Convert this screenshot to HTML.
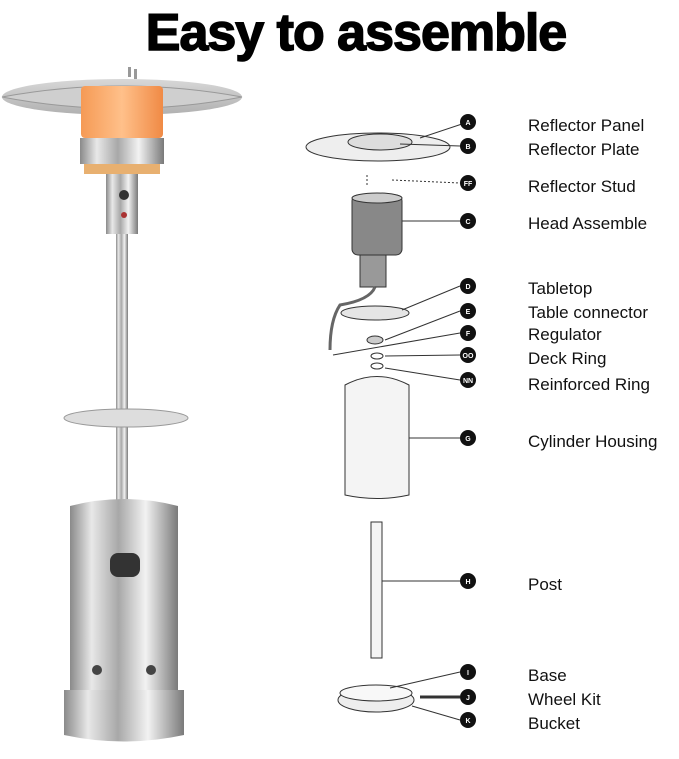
<!DOCTYPE html>
<html><head><meta charset="utf-8"><style>
html,body{margin:0;padding:0;background:#fff;}
svg{display:block}
text{font-family:"Liberation Sans",sans-serif}
.l{font-size:17px;fill:#111}
.c{fill:#111}
.ct{font-size:7px;font-weight:bold;fill:#fff;text-anchor:middle}
</style></head><body>
<svg width="679" height="759" viewBox="0 0 679 759" xmlns="http://www.w3.org/2000/svg">
<defs>
<linearGradient id="steel" x1="0" x2="1">
<stop offset="0" stop-color="#8a8a8a"/><stop offset="0.2" stop-color="#e8e8e8"/><stop offset="0.45" stop-color="#a8a8a8"/><stop offset="0.7" stop-color="#f2f2f2"/><stop offset="1" stop-color="#7a7a7a"/></linearGradient>
<linearGradient id="glow" x1="0" x2="1"><stop offset="0" stop-color="#f59a55"/><stop offset="0.5" stop-color="#ffc08a"/><stop offset="1" stop-color="#f08a45"/></linearGradient>
<linearGradient id="disk" x1="0" y1="0" x2="0" y2="1"><stop offset="0" stop-color="#d8d8d8"/><stop offset="1" stop-color="#b0b0b0"/></linearGradient>
</defs>
<text x="356" y="50" text-anchor="middle" style="font-size:52px;font-weight:900;letter-spacing:-1px" fill="#000" stroke="#000" stroke-width="1.5">Easy to assemble</text>

<!-- left heater -->
<ellipse cx="122" cy="97" rx="120" ry="18" fill="url(#disk)"/>
<path d="M2,97 Q122,75 242,97 Q122,120 2,97Z" fill="#cfcfcf" stroke="#999" stroke-width="1"/>
<rect x="128" y="67" width="3" height="10" fill="#999"/><rect x="134" y="69" width="3" height="10" fill="#999"/>
<rect x="81" y="86" width="82" height="52" rx="4" fill="url(#glow)"/>
<rect x="80" y="138" width="84" height="26" fill="url(#steel)"/>
<rect x="84" y="164" width="76" height="10" fill="#e8b070"/>
<rect x="106" y="174" width="32" height="60" fill="url(#steel)"/>
<circle cx="124" cy="195" r="5" fill="#333"/><circle cx="124" cy="215" r="3" fill="#a33"/>
<rect x="116" y="234" width="12" height="280" fill="url(#steel)"/>
<ellipse cx="126" cy="418" rx="62" ry="9" fill="#ddd" stroke="#999"/>
<path d="M70,506 Q124,492 178,506 L178,690 L70,690Z" fill="url(#steel)"/>
<rect x="110" y="553" width="30" height="24" rx="8" fill="#333"/>
<circle cx="97" cy="670" r="5" fill="#444"/><circle cx="151" cy="670" r="5" fill="#444"/>
<path d="M64,690 L184,690 L184,735 Q124,748 64,735Z" fill="url(#steel)"/>

<!-- exploded diagram -->
<g stroke="#333" fill="none" stroke-width="1">
<ellipse cx="378" cy="147" rx="72" ry="14" fill="#eee"/>
<ellipse cx="380" cy="142" rx="32" ry="8" fill="#ddd"/>
<line x1="420" y1="138" x2="462" y2="124"/><line x1="400" y1="144" x2="460" y2="146"/>
<line x1="392" y1="180" x2="460" y2="183" stroke-dasharray="2,2"/>
<line x1="367" y1="175" x2="367" y2="186" stroke-dasharray="2,2"/>
<rect x="352" y="195" width="50" height="60" rx="6" fill="#888"/>
<ellipse cx="377" cy="198" rx="25" ry="5" fill="#ccc"/>
<line x1="402" y1="221" x2="460" y2="221"/>
<rect x="360" y="255" width="26" height="32" fill="#999"/>
<path d="M375,287 Q370,300 340,305 Q330,320 330,350" stroke="#666" stroke-width="3"/>
<ellipse cx="375" cy="313" rx="34" ry="7" fill="#e5e5e5"/>
<line x1="402" y1="310" x2="460" y2="286"/>
<ellipse cx="375" cy="340" rx="8" ry="4" fill="#ccc"/><line x1="385" y1="340" x2="460" y2="311"/>
<line x1="333" y1="355" x2="460" y2="333"/>
<ellipse cx="377" cy="356" rx="6" ry="3"/><line x1="385" y1="356" x2="460" y2="355"/>
<ellipse cx="377" cy="366" rx="6" ry="3"/><line x1="385" y1="368" x2="460" y2="380"/>
<path d="M345,385 Q377,368 409,385 L409,495 Q377,502 345,495Z" fill="#f4f4f4"/>
<line x1="409" y1="438" x2="460" y2="438"/>
<rect x="371" y="522" width="11" height="136" fill="#f4f4f4"/>
<line x1="382" y1="581" x2="460" y2="581"/>
<ellipse cx="376" cy="700" rx="38" ry="12" fill="#eee"/>
<ellipse cx="376" cy="693" rx="36" ry="8" fill="#f8f8f8"/>
<line x1="390" y1="688" x2="460" y2="672"/>
<line x1="420" y1="697" x2="460" y2="697" stroke-width="3"/>
<line x1="412" y1="706" x2="460" y2="720"/>
</g>

<g>
<circle class="c" cx="468" cy="122" r="8"/><text class="ct" x="468" y="125">A</text>
<circle class="c" cx="468" cy="146" r="8"/><text class="ct" x="468" y="149">B</text>
<circle class="c" cx="468" cy="183" r="8"/><text class="ct" x="468" y="186">FF</text>
<circle class="c" cx="468" cy="221" r="8"/><text class="ct" x="468" y="224">C</text>
<circle class="c" cx="468" cy="286" r="8"/><text class="ct" x="468" y="289">D</text>
<circle class="c" cx="468" cy="311" r="8"/><text class="ct" x="468" y="314">E</text>
<circle class="c" cx="468" cy="333" r="8"/><text class="ct" x="468" y="336">F</text>
<circle class="c" cx="468" cy="355" r="8"/><text class="ct" x="468" y="358">OO</text>
<circle class="c" cx="468" cy="380" r="8"/><text class="ct" x="468" y="383">NN</text>
<circle class="c" cx="468" cy="438" r="8"/><text class="ct" x="468" y="441">G</text>
<circle class="c" cx="468" cy="581" r="8"/><text class="ct" x="468" y="584">H</text>
<circle class="c" cx="468" cy="672" r="8"/><text class="ct" x="468" y="675">I</text>
<circle class="c" cx="468" cy="697" r="8"/><text class="ct" x="468" y="700">J</text>
<circle class="c" cx="468" cy="720" r="8"/><text class="ct" x="468" y="723">K</text>
</g>
<g class="l">
<text class="l" x="528" y="131">Reflector Panel</text>
<text class="l" x="528" y="155">Reflector Plate</text>
<text class="l" x="528" y="192">Reflector Stud</text>
<text class="l" x="528" y="229">Head Assemble</text>
<text class="l" x="528" y="294">Tabletop</text>
<text class="l" x="528" y="318">Table connector</text>
<text class="l" x="528" y="340">Regulator</text>
<text class="l" x="528" y="364">Deck Ring</text>
<text class="l" x="528" y="390">Reinforced Ring</text>
<text class="l" x="528" y="447">Cylinder Housing</text>
<text class="l" x="528" y="590">Post</text>
<text class="l" x="528" y="681">Base</text>
<text class="l" x="528" y="705">Wheel Kit</text>
<text class="l" x="528" y="729">Bucket</text>
</g>
</svg>
</body></html>
